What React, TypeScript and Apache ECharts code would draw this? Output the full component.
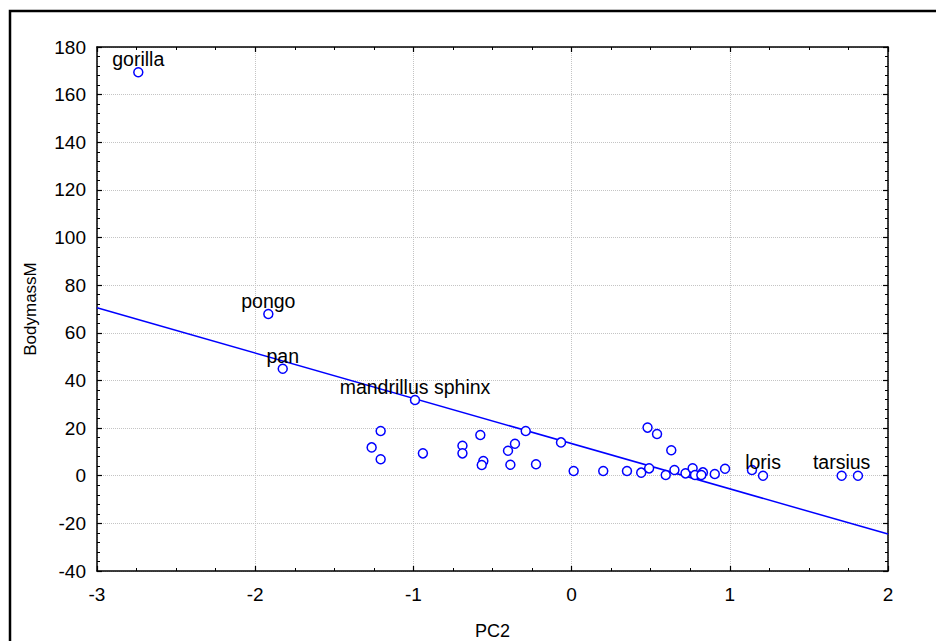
import React, { useEffect, useRef } from "react";
import * as echarts from "echarts";

const pcValues = [
  -2.739, -1.917, -1.826, -0.99,
  -1.207, -1.264, -1.207, -0.94, -0.69, -0.69, -0.577, -0.558, -0.568,
  -0.402, -0.358, -0.29, -0.387, -0.225, -0.067, 0.013, 0.2, 0.35, 0.44,
  0.48, 0.54, 0.49, 0.595, 0.63, 0.65, 0.72, 0.765, 0.78, 0.83, 0.82,
  0.905, 0.97, 1.14, 1.21, 1.707, 1.81,
];
const bodyMass = [
  169.4, 67.9, 44.9, 31.8,
  18.8, 11.9, 6.9, 9.4, 12.6, 9.4, 17.1, 6.2, 4.5,
  10.5, 13.4, 18.8, 4.6, 4.8, 14.0, 2.0, 2.0, 2.0, 1.3,
  20.2, 17.5, 3.1, 0.3, 10.7, 2.4, 1.0, 3.1, 0.3, 1.4, 0.3,
  0.7, 2.9, 2.4, 0.0, 0.0, 0.0,
];
const pointLabels = [
  "gorilla", "pongo", "pan", "mandrillus sphinx",
  "", "", "", "", "", "", "", "", "",
  "", "", "", "", "", "", "", "", "", "",
  "", "", "", "", "", "", "", "", "", "", "",
  "", "", "", "loris", "tarsius", "",
];
const fitX = [-3, 2];
const fitY = [70.5, -24.5];
const xTicks = { min: -3, max: 2, interval: 1 };
const yTicks = { min: -40, max: 180, interval: 20 };

const FONT = "'Liberation Sans', Arial, sans-serif";

export default function App() {
  const ref = useRef<HTMLDivElement>(null);
  useEffect(() => {
    document.body.style.margin = "0";
    if (!ref.current) return;
    const chart = echarts.init(ref.current, undefined, { renderer: "svg" });
    const axisLine = { show: true, onZero: false, lineStyle: { color: "#000", width: 1.5 } };
    const axisTick = { show: true, inside: true, length: 5, lineStyle: { color: "#000", width: 1.2 } };
    const splitLine = { show: true, lineStyle: { color: "#c4c4c4", type: "dotted", width: 1 } };
    const xBase = { type: "value", min: xTicks.min, max: xTicks.max, interval: xTicks.interval };
    const yBase = { type: "value", min: yTicks.min, max: yTicks.max, interval: yTicks.interval };
    const xMinor = { show: true, splitNumber: 4, length: 3, lineStyle: { color: "#000", width: 1 } };
    const yMinor = { show: true, splitNumber: 5, length: 3, lineStyle: { color: "#000", width: 1 } };
    const tickStyle = { color: "#000", fontSize: 19, fontFamily: FONT };
    const pointLabelStyle = { color: "#000", fontSize: 19.5, fontFamily: FONT };

    chart.setOption({
      animation: false,
      backgroundColor: "#fff",
      grid: { left: 97, top: 47, right: 48, bottom: 70, containLabel: false, outerBoundsMode: "none" },
      graphic: [
        {
          type: "rect",
          shape: { x: 10, y: 11, width: 1000, height: 1000 },
          style: { fill: "none", stroke: "#000", lineWidth: 2.5 },
          silent: true,
        },
      ],
      xAxis: [
        {
          ...xBase,
          position: "bottom",
          axisLine,
          axisTick,
          minorTick: xMinor,
          splitLine,
          axisLabel: { ...tickStyle, margin: 14 },
          name: "PC2",
          nameLocation: "middle",
          nameGap: 51,
          nameTextStyle: { color: "#000", fontSize: 18, fontFamily: FONT },
        },
        {
          ...xBase,
          position: "top",
          axisLine,
          axisTick,
          minorTick: xMinor,
          splitLine: { show: false },
          axisLabel: { show: false },
        },
      ],
      yAxis: [
        {
          ...yBase,
          position: "left",
          axisLine,
          axisTick,
          minorTick: yMinor,
          splitLine,
          axisLabel: { ...tickStyle, margin: 11, padding: [4, 0, 0, 0] },
          name: "BodymassM",
          nameLocation: "middle",
          nameGap: 58,
          nameTextStyle: { color: "#000", fontSize: 17, fontFamily: FONT },
        },
        {
          ...yBase,
          position: "right",
          axisLine,
          axisTick,
          minorTick: yMinor,
          splitLine: { show: false },
          axisLabel: { show: false },
        },
      ],
      series: [
        {
          type: "line",
          data: fitX.map((x, i) => [x, fitY[i]]),
          symbol: "none",
          lineStyle: { color: "#0000ff", width: 1.5 },
          z: 2,
          silent: true,
        },
        {
          type: "scatter",
          symbol: "circle",
          symbolSize: 9,
          itemStyle: { color: "#fff", borderColor: "#0000ff", borderWidth: 1.5, opacity: 1 },
          z: 3,
          data: pcValues.map((x, i) => ({
            value: [x, bodyMass[i]],
            name: pointLabels[i],
            label: {
              show: pointLabels[i] !== "",
              position: "top",
              distance: -2,
              formatter: pointLabels[i],
              ...pointLabelStyle,
            },
          })),
        },
      ],
    });
    return () => chart.dispose();
  }, []);
  return <div ref={ref} style={{ width: 936, height: 641 }} />;
}
